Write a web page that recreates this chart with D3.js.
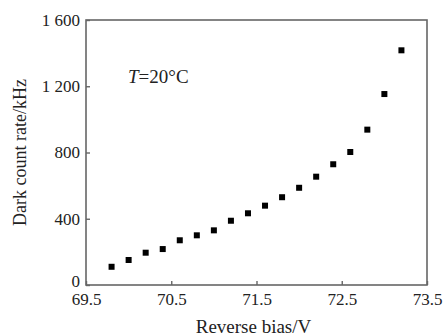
<!DOCTYPE html>
<html><head><meta charset="utf-8">
<script src="https://cdn.jsdelivr.net/npm/d3@7"></script>
<style>body{margin:0;background:#fff}svg text{font-family:"Liberation Serif","Times New Roman",serif;fill:#222}</style>
</head><body>
<script>
const biasV = [69.8,70.0,70.2,70.4,70.6,70.8,71.0,71.2,71.4,71.6,71.8,72.0,72.2,72.4,72.6,72.8,73.0,73.2];
const darkRate = [110,151,195,217,270,300,330,388,433,479,530,587,654,729,803,938,1153,1417];
const xTicks = [69.5,70.5,71.5,72.5,73.5];
const yTicks = [0,400,800,1200,1600];
const yTickLabels = ["0","400","800","1 200","1 600"];

const W=446,H=336, m={l:86,t:20,r:19,b:51};
const svg=d3.select("body").append("svg").attr("width",W).attr("height",H);
const x=d3.scaleLinear().domain([69.5,73.5]).range([m.l,W-m.r]);
const y=d3.scaleLinear().domain([0,1600]).range([H-m.b,m.t]);
const ax="#666";

svg.append("rect").attr("x",x(69.5)).attr("y",y(1600)).attr("width",x(73.5)-x(69.5)).attr("height",y(0)-y(1600))
  .attr("fill","none").attr("stroke",ax).attr("stroke-width",1.6);

const gx=svg.append("g").attr("transform",`translate(0,${y(0)})`)
  .call(d3.axisBottom(x).tickValues(xTicks).tickSizeInner(-4).tickSizeOuter(0).tickPadding(8).tickFormat(d3.format(".1f")));
gx.select(".domain").remove();
gx.selectAll("line").attr("stroke",ax).attr("stroke-width",1.4);
gx.selectAll("text").attr("font-size",17).attr("fill","#222");

const gy=svg.append("g").attr("transform",`translate(${x(69.5)},0)`)
  .call(d3.axisLeft(y).tickValues(yTicks).tickSizeInner(-4).tickSizeOuter(0).tickPadding(6).tickFormat((d,i)=>yTickLabels[i]));
gy.select(".domain").remove();
gy.selectAll("line").attr("stroke",ax).attr("stroke-width",1.4);
gy.selectAll("text").attr("font-size",17).attr("fill","#222");
gy.selectAll(".tick").filter(d=>d===0).select("text").attr("dy","0.1em");

svg.append("g").selectAll("rect").data(biasV).join("rect")
  .attr("x",(d)=>x(d)-3).attr("y",(d,i)=>y(darkRate[i])-3).attr("width",6).attr("height",6).attr("fill","#000");

svg.append("text").attr("x",(x(69.5)+x(73.5))/2 - 3).attr("y",333).attr("text-anchor","middle").attr("font-size",19).text("Reverse bias/V");
svg.append("text").attr("transform",`translate(26,${(y(0)+y(1600))/2}) rotate(-90)`).attr("text-anchor","middle").attr("font-size",18).text("Dark count rate/kHz");
const ann=svg.append("text").attr("x",128).attr("y",83).attr("font-size",19);
ann.append("tspan").attr("font-style","italic").text("T");
ann.append("tspan").text("=20°C");
</script>
</body></html>
